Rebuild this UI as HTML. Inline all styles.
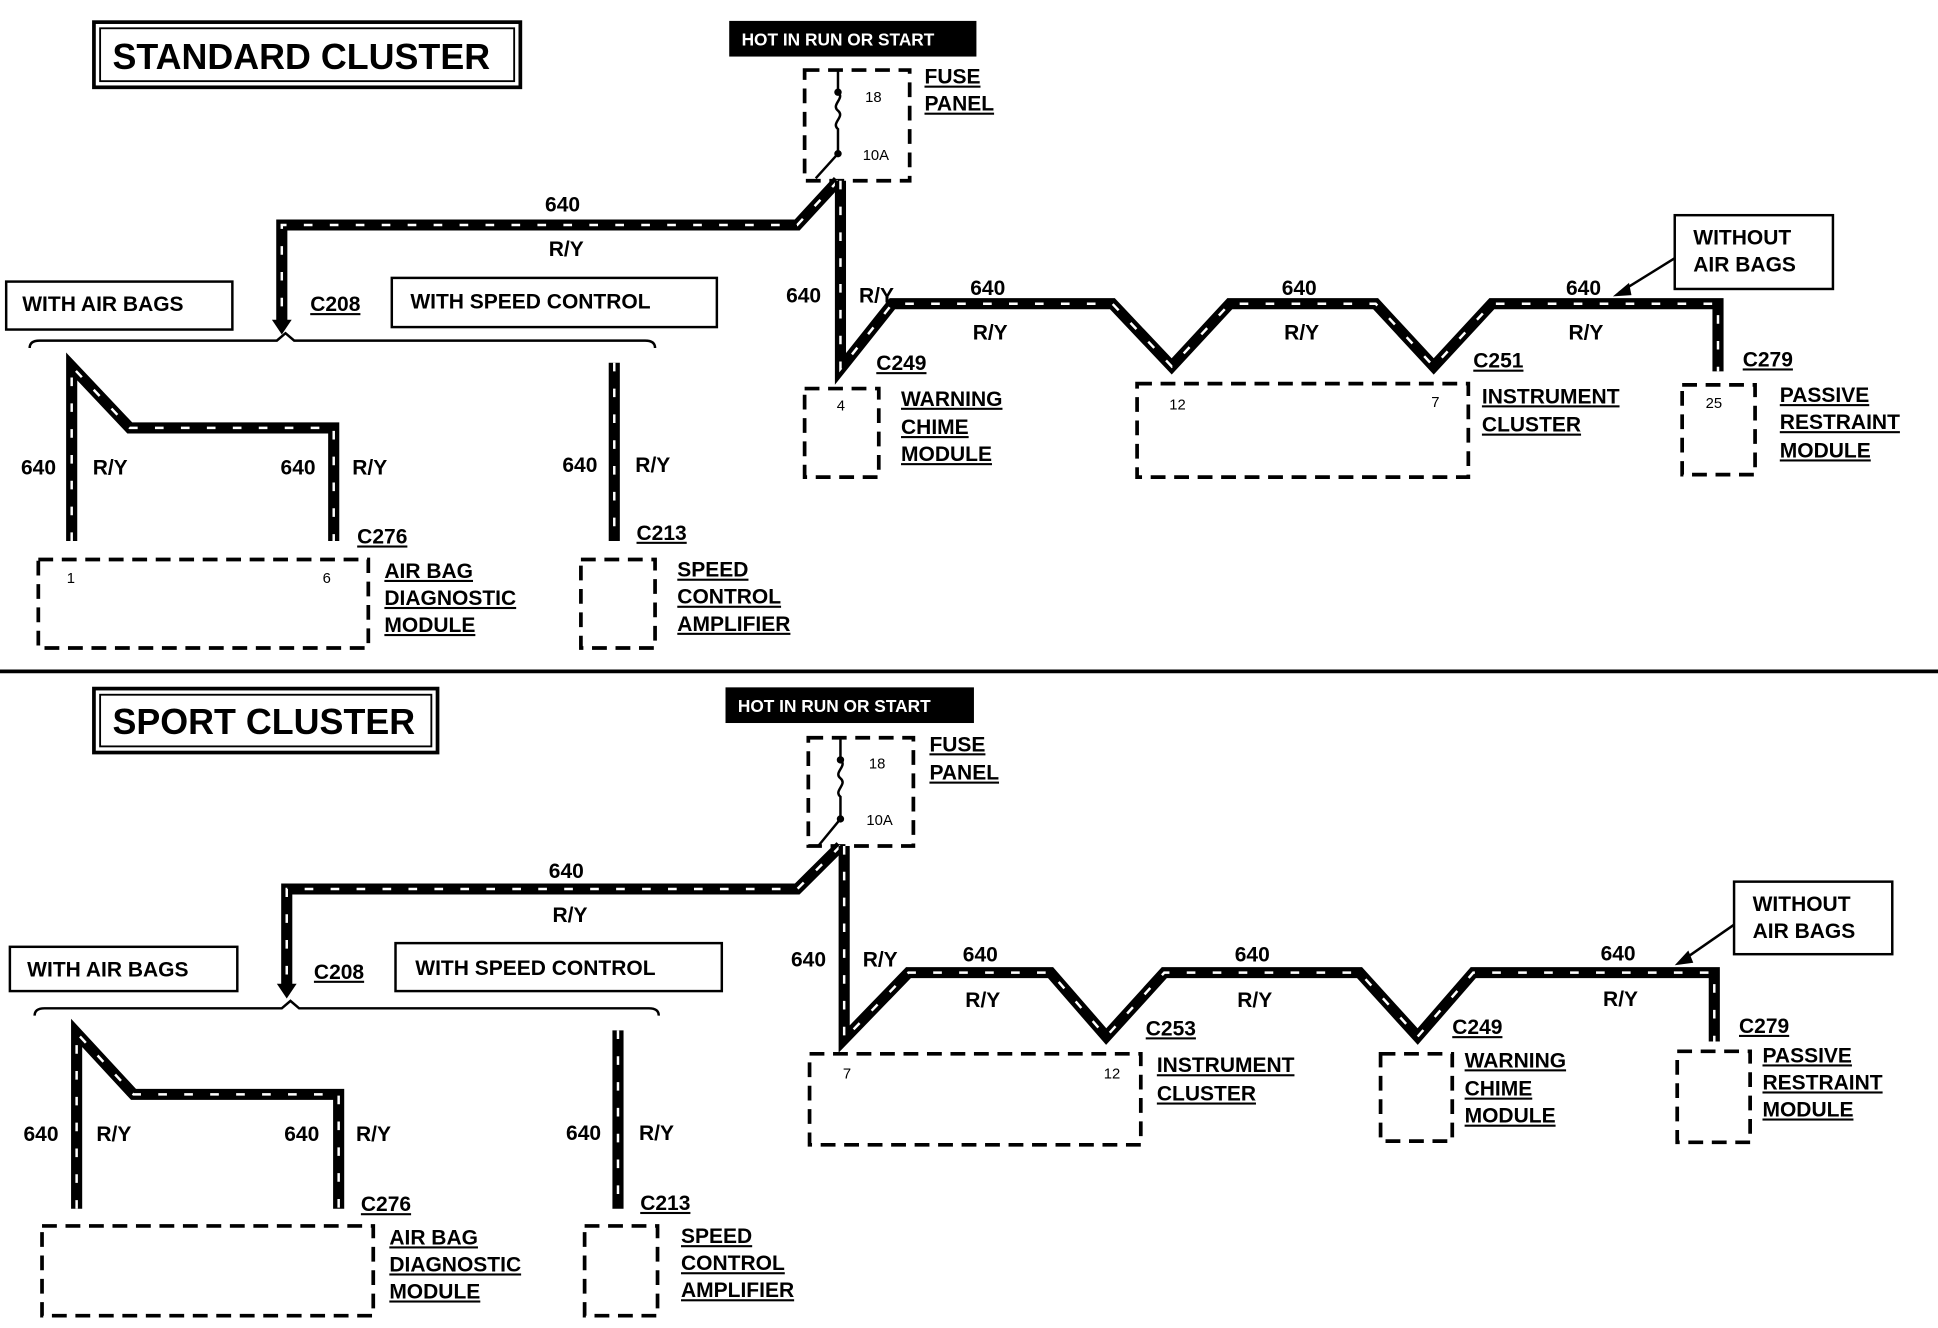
<!DOCTYPE html>
<html><head><meta charset="utf-8"><style>
html,body{margin:0;padding:0;background:#fff;}
svg{display:block;}
text{font-family:"Liberation Sans",sans-serif;font-weight:bold;fill:#000;}
.l{font-size:17px;text-decoration:underline;}
.n{font-size:17px;}
.s{font-size:12px;font-weight:normal;}
.w1{fill:none;stroke:#000;stroke-width:9;stroke-linejoin:miter;}
.w2{fill:none;stroke:#fff;stroke-width:2;stroke-dasharray:7 14;}
.d{fill:none;stroke:#000;stroke-width:3;stroke-dasharray:12 7;}
.b{fill:none;stroke:#000;stroke-width:2;}
</style></head><body>
<svg width="1938" height="1328" viewBox="0 0 1568 1080" preserveAspectRatio="none" xmlns="http://www.w3.org/2000/svg">
<defs>
<g id="sec">
</g>
</defs>

<!-- ===== TOP ===== -->
<rect x="76" y="18" width="345" height="53" fill="none" stroke="#000" stroke-width="3"/>
<rect x="81" y="23" width="335" height="43" fill="none" stroke="#000" stroke-width="1.5"/>
<text x="91" y="56" font-size="29">STANDARD CLUSTER</text>
<rect x="590" y="17" width="200" height="29" fill="#000"/>
<text x="600" y="37" font-size="14" style="fill:#fff">HOT IN  RUN  OR  START</text>
<rect x="651" y="57" width="85" height="90" class="d"/>
<path d="M678 57 V 75 c 6 5 -6 10 0 15 c 6 5 -6 10 0 15 V 125 L 660 145" class="b"/>
<circle cx="678" cy="75" r="3"/><circle cx="678" cy="125" r="3"/>
<text x="700" y="83" class="s">18</text><text x="698" y="130" class="s">10A</text>
<text x="748" y="68" class="l">FUSE</text><text x="748" y="90" class="l">PANEL</text>

<path d="M678 147 L645 183 L228 183 L228 262" class="w1"/>
<path d="M678 147 L645 183 L228 183 L228 262" class="w2"/>
<path d="M220 260 L236 260 L228 272 Z"/>
<text x="441" y="172" class="n">640</text><text x="444" y="208" class="n">R/Y</text>

<path d="M680 147 L680 300 L722 247 L900 247 L948 298 L995 247 L1113 247 L1160 298 L1207 247 L1390 247 L1390 302" class="w1"/>
<path d="M680 147 L680 300 L722 247 L900 247 L948 298 L995 247 L1113 247 L1160 298 L1207 247 L1390 247 L1390 302" class="w2"/>
<text x="636" y="246" class="n">640</text><text x="695" y="246" class="n">R/Y</text>
<text x="785" y="240" class="n">640</text><text x="787" y="276" class="n">R/Y</text>
<text x="1037" y="240" class="n">640</text><text x="1039" y="276" class="n">R/Y</text>
<text x="1267" y="240" class="n">640</text><text x="1269" y="276" class="n">R/Y</text>
<rect x="1355" y="175" width="128" height="60" class="b"/>
<text x="1370" y="199" class="n">WITHOUT</text><text x="1370" y="221" class="n">AIR BAGS</text>
<path d="M1355 210 L1310 238" class="b"/><path d="M1305 241 L1318 230 L1320 240 Z"/>
<text x="709" y="301" class="l">C249</text><text x="1192" y="299" class="l">C251</text><text x="1410" y="298" class="l">C279</text>
<rect x="651" y="316" width="60" height="72" class="d"/><text x="677" y="334" class="s">4</text>
<text x="729" y="330" class="l">WARNING</text><text x="729" y="353" class="l">CHIME</text><text x="729" y="375" class="l">MODULE</text>
<rect x="920" y="312" width="268" height="76" class="d"/><text x="946" y="333" class="s">12</text><text x="1158" y="331" class="s">7</text>
<text x="1199" y="328" class="l">INSTRUMENT</text><text x="1199" y="351" class="l">CLUSTER</text>
<rect x="1361" y="313" width="59" height="73" class="d"/><text x="1380" y="332" class="s">25</text>
<text x="1440" y="327" class="l">PASSIVE</text><text x="1440" y="349" class="l">RESTRAINT</text><text x="1440" y="372" class="l">MODULE</text>

<rect x="5" y="229" width="183" height="39" class="b"/><text x="18" y="253" class="n">WITH AIR BAGS</text>
<text x="251" y="253" class="l">C208</text>
<rect x="317" y="226" width="263" height="40" class="b"/><text x="332" y="251" class="n">WITH SPEED CONTROL</text>
<path d="M24 283 Q24 277 32 277 L224 277 L231 271 L238 277 L522 277 Q530 277 530 283" class="b"/>
<path d="M58 440 L58 298 L105 348 L270 348 L270 440" class="w1"/>
<path d="M58 440 L58 298 L105 348 L270 348 L270 440" class="w2"/>
<path d="M497 295 L497 440" class="w1"/><path d="M497 295 L497 440" class="w2"/>
<text x="17" y="386" class="n">640</text><text x="75" y="386" class="n">R/Y</text>
<text x="227" y="386" class="n">640</text><text x="285" y="386" class="n">R/Y</text>
<text x="455" y="384" class="n">640</text><text x="514" y="384" class="n">R/Y</text>
<text x="289" y="442" class="l">C276</text><text x="515" y="439" class="l">C213</text>
<rect x="31" y="455" width="267" height="72" class="d"/><text x="54" y="474" class="s">1</text><text x="261" y="474" class="s">6</text>
<text x="311" y="470" class="l">AIR BAG</text><text x="311" y="492" class="l">DIAGNOSTIC</text><text x="311" y="514" class="l">MODULE</text>
<rect x="470" y="455" width="60" height="72" class="d"/>
<text x="548" y="469" class="l">SPEED</text><text x="548" y="491" class="l">CONTROL</text><text x="548" y="513" class="l">AMPLIFIER</text>

<path d="M0 546 L1568 546" stroke="#000" stroke-width="3"/>

<!-- ===== BOTTOM ===== -->
<rect x="76" y="560" width="278" height="52" fill="none" stroke="#000" stroke-width="3"/>
<rect x="81" y="565" width="268" height="42" fill="none" stroke="#000" stroke-width="1.5"/>
<text x="91" y="597" font-size="29">SPORT CLUSTER</text>
<rect x="587" y="559" width="201" height="29" fill="#000"/>
<text x="597" y="579" font-size="14" style="fill:#fff">HOT IN  RUN  OR  START</text>
<rect x="654" y="600" width="85" height="88" class="d"/>
<path d="M680 600 V 618 c 6 5 -6 10 0 15 c 6 5 -6 10 0 15 V 666 L 662 688" class="b"/>
<circle cx="680" cy="618" r="3"/><circle cx="680" cy="666" r="3"/>
<text x="703" y="625" class="s">18</text><text x="701" y="671" class="s">10A</text>
<text x="752" y="611" class="l">FUSE</text><text x="752" y="634" class="l">PANEL</text>

<path d="M680 688 L645 723 L232 723 L232 802" class="w1"/>
<path d="M680 688 L645 723 L232 723 L232 802" class="w2"/>
<path d="M224 800 L240 800 L232 812 Z"/>
<text x="444" y="714" class="n">640</text><text x="447" y="750" class="n">R/Y</text>

<path d="M683 688 L683 845 L735 791 L850 791 L895 843 L942 791 L1100 791 L1147 843 L1192 791 L1387 791 L1387 847" class="w1"/>
<path d="M683 688 L683 845 L735 791 L850 791 L895 843 L942 791 L1100 791 L1147 843 L1192 791 L1387 791 L1387 847" class="w2"/>
<text x="640" y="786" class="n">640</text><text x="698" y="786" class="n">R/Y</text>
<text x="779" y="782" class="n">640</text><text x="781" y="819" class="n">R/Y</text>
<text x="999" y="782" class="n">640</text><text x="1001" y="819" class="n">R/Y</text>
<text x="1295" y="781" class="n">640</text><text x="1297" y="818" class="n">R/Y</text>
<rect x="1403" y="717" width="128" height="59" class="b"/>
<text x="1418" y="741" class="n">WITHOUT</text><text x="1418" y="763" class="n">AIR BAGS</text>
<path d="M1403 752 L1360 782" class="b"/><path d="M1355 785 L1366 773 L1370 783 Z"/>
<text x="927" y="842" class="l">C253</text><text x="1175" y="841" class="l">C249</text><text x="1407" y="840" class="l">C279</text>
<rect x="655" y="857" width="268" height="74" class="d"/><text x="682" y="877" class="s">7</text><text x="893" y="877" class="s">12</text>
<text x="936" y="872" class="l">INSTRUMENT</text><text x="936" y="895" class="l">CLUSTER</text>
<rect x="1117" y="857" width="58" height="71" class="d"/>
<text x="1185" y="868" class="l">WARNING</text><text x="1185" y="891" class="l">CHIME</text><text x="1185" y="913" class="l">MODULE</text>
<rect x="1357" y="855" width="59" height="74" class="d"/>
<text x="1426" y="864" class="l">PASSIVE</text><text x="1426" y="886" class="l">RESTRAINT</text><text x="1426" y="908" class="l">MODULE</text>

<rect x="8" y="770" width="184" height="36" class="b"/><text x="22" y="794" class="n">WITH AIR BAGS</text>
<text x="254" y="796" class="l">C208</text>
<rect x="320" y="767" width="264" height="39" class="b"/><text x="336" y="793" class="n">WITH SPEED CONTROL</text>
<path d="M28 826 Q28 820 36 820 L228 820 L235 814 L242 820 L525 820 Q533 820 533 826" class="b"/>
<path d="M62 983 L62 840 L108 890 L274 890 L274 983" class="w1"/>
<path d="M62 983 L62 840 L108 890 L274 890 L274 983" class="w2"/>
<path d="M500 838 L500 983" class="w1"/><path d="M500 838 L500 983" class="w2"/>
<text x="19" y="928" class="n">640</text><text x="78" y="928" class="n">R/Y</text>
<text x="230" y="928" class="n">640</text><text x="288" y="928" class="n">R/Y</text>
<text x="458" y="927" class="n">640</text><text x="517" y="927" class="n">R/Y</text>
<text x="292" y="985" class="l">C276</text><text x="518" y="984" class="l">C213</text>
<rect x="34" y="997" width="268" height="73" class="d"/>
<text x="315" y="1012" class="l">AIR BAG</text><text x="315" y="1034" class="l">DIAGNOSTIC</text><text x="315" y="1056" class="l">MODULE</text>
<rect x="473" y="997" width="59" height="73" class="d"/>
<text x="551" y="1011" class="l">SPEED</text><text x="551" y="1033" class="l">CONTROL</text><text x="551" y="1055" class="l">AMPLIFIER</text>
</svg>
</body></html>
